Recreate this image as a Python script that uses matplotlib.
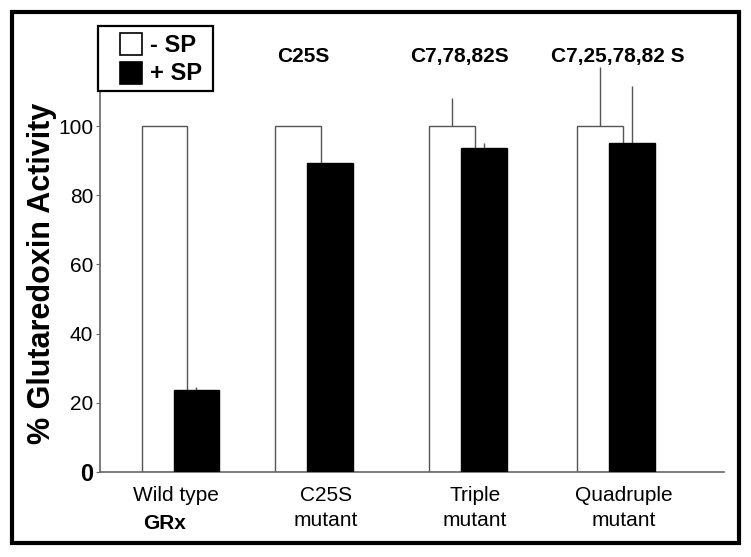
import matplotlib.pyplot as plt
from matplotlib.patches import Rectangle
import numpy as np

plt.rcParams['font.family'] = ['Liberation Sans', 'DejaVu Sans']

groups = ["Wild type", "C25S\nmutant", "Triple\nmutant", "Quadruple\nmutant"]
mutations = ["", "C25S", "C7,78,82S", "C7,25,78,82 S"]
minus_sp = [100, 100, 100, 100]
plus_sp = [23.7, 89.2, 93.6, 95.0]
minus_err = [0, 0, 8, 17]
plus_err = [0.8, 0, 1.5, 16.5]

W, H = 751, 557


def fx(px):
    return px / W


def fy(py):
    return (H - py) / H


# layout (x in group units, centre of the white bar)
group_x = np.array([0.0, 0.92, 1.98, 3.0])
label_x = np.array([0.08, 1.11, 2.14, 3.16])
note_x = np.array([0.0, 0.954, 2.035, 3.123])
bar_w = 0.313
shift = 0.22
edge = "#555555"

fig = plt.figure(figsize=(7.51, 5.57), dpi=100)
ax = fig.add_axes([fx(100), fy(472), fx(724) - fx(100), fy(39.5) - fy(472)])

ax.bar(group_x, minus_sp, width=bar_w, color='white',
       edgecolor=edge, linewidth=1, zorder=2)
ax.bar(group_x + shift, plus_sp, width=bar_w, color='black',
       edgecolor='black', linewidth=1, zorder=3)
ax.errorbar(group_x, minus_sp, yerr=[np.zeros(4), minus_err],
            fmt='none', ecolor=edge, elinewidth=1, capsize=0, zorder=1)
ax.errorbar(group_x + shift, plus_sp, yerr=[np.zeros(4), plus_err],
            fmt='none', ecolor=edge, elinewidth=1, capsize=0, zorder=1)

ax.set_xlim(-0.444, 3.853)
ax.set_ylim(0, 125)
for s in ['top', 'right']:
    ax.spines[s].set_visible(False)
for s in ['left', 'bottom']:
    ax.spines[s].set_color('#666666')
    ax.spines[s].set_linewidth(1.2)
ax.spines['left'].set_bounds(0, 110)

ax.set_yticks([0, 20, 40, 60, 80, 100])
ax.set_yticklabels(['0', '20', '40', '60', '80', '100'], fontsize=15)
ax.get_yticklabels()[0].set_fontsize(17)
ax.get_yticklabels()[0].set_fontweight('bold')
ax.tick_params(axis='y', length=3, pad=2, color='#666666')

ax.set_xticks(label_x)
ax.set_xticklabels(groups, fontsize=15, linespacing=1.4)
ax.tick_params(axis='x', length=0, pad=10)

ax.text(0.003, -0.118, "GRx", transform=ax.get_xaxis_transform(),
        ha='center', va='center', fontsize=15, fontweight='bold')

for x, m in zip(note_x, mutations):
    if m:
        ax.text(x, 120.2, m, ha='center', va='center', fontsize=15,
                fontweight='bold')

fig.text(fx(42), fy(273), "% Glutaredoxin Activity", rotation=90,
         ha='center', va='center', fontsize=22, fontweight='bold')

# legend box
fig.patches.append(Rectangle((fx(98), fy(91)), fx(213) - fx(98), fy(26) - fy(91),
                             transform=fig.transFigure, facecolor='white',
                             edgecolor='black', linewidth=1.6, zorder=5))
fig.patches.append(Rectangle((fx(120), fy(55)), fx(142) - fx(120), fy(33) - fy(55),
                             transform=fig.transFigure, facecolor='white',
                             edgecolor='black', linewidth=1.2, zorder=6))
fig.patches.append(Rectangle((fx(120), fy(84)), fx(142) - fx(120), fy(62) - fy(84),
                             transform=fig.transFigure, facecolor='black',
                             edgecolor='black', linewidth=1.2, zorder=6))
fig.text(fx(150), fy(45), "- SP", ha='left', va='center', fontsize=17,
         fontweight='bold', zorder=7)
fig.text(fx(150), fy(74), "+ SP", ha='left', va='center', fontsize=17,
         fontweight='bold', zorder=7)

# outer frame
fig.patches.append(Rectangle((fx(12), fy(543)), fx(739) - fx(12), fy(12) - fy(543),
                             transform=fig.transFigure, facecolor='none',
                             edgecolor='black', linewidth=3, zorder=10))

fig.savefig("out.png", dpi=100)
